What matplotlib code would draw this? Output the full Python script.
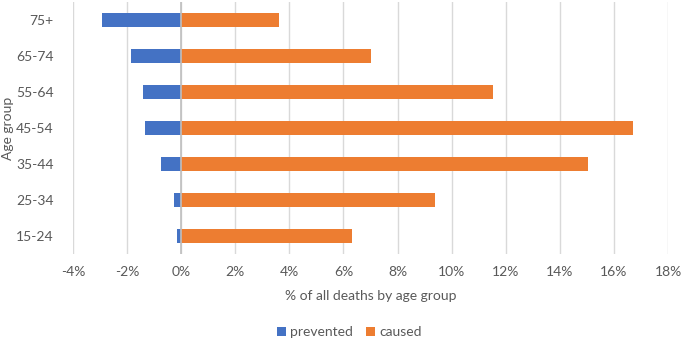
import numpy as np
import matplotlib.pyplot as plt
from matplotlib.ticker import FuncFormatter

# data (percent of all deaths)
age_groups = ['15-24', '25-34', '35-44', '45-54', '55-64', '65-74', '75+']
prevented = [-0.16, -0.27, -0.76, -1.35, -1.43, -1.87, -2.94]
caused = [6.32, 9.39, 15.05, 16.69, 11.54, 7.0, 3.61]

plt.rcParams['font.family'] = ['Lato', 'DejaVu Sans']
txt = '#595959'

fig = plt.figure(figsize=(6.85, 3.43), dpi=100)
ax = fig.add_axes([0.1066, 0.2595, 0.8686, 0.7345])

y = np.arange(len(age_groups))
ax.barh(y, prevented, height=0.39, color='#4472C4', label='prevented', zorder=3)
ax.barh(y, caused, height=0.39, color='#ED7D31', label='caused', zorder=3)

ax.set_xlim(-4, 18)
ax.set_ylim(-0.5, len(age_groups) - 0.5)
ax.set_xticks(np.arange(-4, 19, 2))
ax.xaxis.set_major_formatter(FuncFormatter(lambda v, p: f'{v:.0f}%'))
ax.set_yticks(y)
ax.set_yticklabels(age_groups)

ax.grid(axis='x', color='#D9D9D9', linewidth=1, zorder=0)
ax.axvline(0, color='#BFBFBF', linewidth=1.2, zorder=4)
for s in ax.spines.values():
    s.set_visible(False)
ax.tick_params(length=0, colors=txt, labelsize=10)
ax.tick_params(axis='x', pad=9)
ax.tick_params(axis='y', pad=14)

ax.set_xlabel('% of all deaths by age group', color=txt, fontsize=10, labelpad=8)
# y label placed near the left edge, like the original
fig.text(8.5 / 685, 1 - 128 / 343, 'Age group', color=txt, fontsize=10,
         rotation=90, ha='center', va='center')

leg = fig.legend(loc='lower center', bbox_to_anchor=(0.51, -0.022), ncol=2, frameon=False,
                 fontsize=10, handlelength=0.6, handleheight=0.6, handletextpad=0.3,
                 columnspacing=1.0)
for t in leg.get_texts():
    t.set_color(txt)

fig.savefig('out.png', dpi=100)
